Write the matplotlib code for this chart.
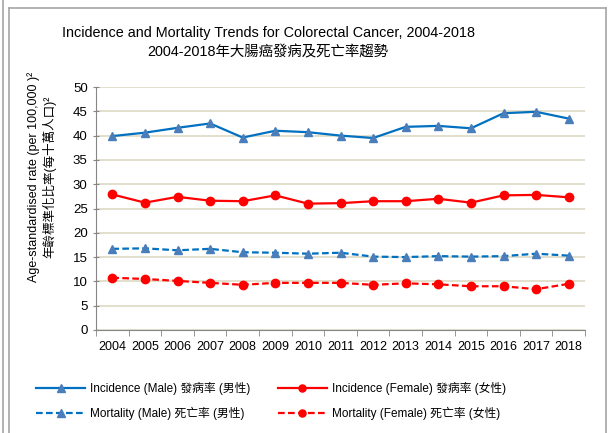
import matplotlib
matplotlib.use("Agg")
import matplotlib.pyplot as plt
from matplotlib.lines import Line2D
from matplotlib.ticker import FixedLocator, NullFormatter

plt.rcParams['font.family'] = ['Liberation Sans', 'Noto Sans CJK TC', 'DejaVu Sans']

years = [str(y) for y in range(2004, 2019)]
inc_male = [39.9, 40.6, 41.6, 42.5, 39.6, 41.0, 40.7, 40.0, 39.5, 41.8, 42.0, 41.5, 44.6, 44.9, 43.5]
inc_female = [27.9, 26.2, 27.4, 26.6, 26.5, 27.7, 26.0, 26.1, 26.5, 26.5, 27.0, 26.2, 27.7, 27.8, 27.3]
mort_male = [16.7, 16.8, 16.4, 16.7, 16.0, 15.9, 15.7, 15.9, 15.1, 15.0, 15.2, 15.1, 15.2, 15.7, 15.3]
mort_female = [10.75, 10.5, 10.1, 9.7, 9.3, 9.7, 9.7, 9.7, 9.3, 9.6, 9.4, 9.0, 9.0, 8.4, 9.5]

labels = ["Incidence (Male) 發病率 (男性)", "Incidence (Female) 發病率 (女性)",
          "Mortality (Male) 死亡率 (男性)", "Mortality (Female) 死亡率 (女性)"]

W, H = 609, 433
fig = plt.figure(figsize=(W/100, H/100), dpi=100)
ax = fig.add_axes([96/W, 1-330/H, (585-96)/W, (330-87)/H])

x = list(range(len(years)))
blue = '#0070C0'
mblue = '#4A7EBB'
red = '#FF0000'
dash = (0, (3.0, 1.5))

l1, = ax.plot(x, inc_male, color=blue, lw=1.6, marker='^', ms=6, mfc=mblue, mec=mblue)
l2, = ax.plot(x, inc_female, color=red, lw=1.6, marker='o', ms=6, mfc=red, mec=red)
l3, = ax.plot(x, mort_male, color=blue, lw=1.6, ls=dash, marker='^', ms=6, mfc=mblue, mec=mblue)
l4, = ax.plot(x, mort_female, color=red, lw=1.6, ls=dash, marker='o', ms=6, mfc=red, mec=red)

ax.set_xlim(-0.5, len(years)-0.5)
ax.set_ylim(0, 50)
ax.set_yticks(range(0, 51, 5))
ax.yaxis.grid(True, color='#DDD9C3', lw=1.2)
ax.set_axisbelow(True)
ax.set_xticks(x)
ax.set_xticklabels(years, fontsize=9)
ax.tick_params(axis='x', which='major', length=0, pad=8)
ax.xaxis.set_minor_locator(FixedLocator([i - 0.5 for i in range(len(years)+1)]))
ax.xaxis.set_minor_formatter(NullFormatter())
ax.tick_params(axis='x', which='minor', length=4, color='#868686', direction='out')
ax.tick_params(axis='y', length=4, color='#868686', direction='inout', labelsize=9.5, pad=4)
for s in ['top', 'right']:
    ax.spines[s].set_visible(False)
for s in ['left', 'bottom']:
    ax.spines[s].set_color('#868686')

fig.text(42/W, 1-177/H, "Age-standardised rate (per 100,000 )²\n年齡標準化比率(每十萬人口)²",
         rotation=90, ha='center', va='center', rotation_mode='anchor',
         multialignment='center', fontsize=9, linespacing=1.25)

fig.text(268/W, 1-33/H, "Incidence and Mortality Trends for Colorectal Cancer, 2004-2018",
         ha='center', va='center', fontsize=10.4)
fig.text(268/W, 1-52/H, "2004-2018年大腸癌發病及死亡率趨勢", ha='center', va='center', fontsize=10.4)

fig.legend([l1, l3, l2, l4], [labels[0], labels[2], labels[1], labels[3]], ncol=2,
           frameon=False, loc='center', markerscale=0.85,
           bbox_to_anchor=(271/W, 1-401/H), fontsize=8.5, handlelength=4.2,
           columnspacing=2.3, labelspacing=0.95, handletextpad=0.4)

# outer frame
fc = '#A6A6A6'
fig.add_artist(Line2D([3/W, 3/W], [0, 1], color=fc, lw=1.2))
fig.add_artist(Line2D([8.5/W, 8.5/W], [0, 1-8/H], color=fc, lw=1.2))
fig.add_artist(Line2D([8.5/W, 605.5/W], [1-8/H, 1-8/H], color=fc, lw=1.2))
fig.add_artist(Line2D([605.5/W, 605.5/W], [0, 1-8/H], color=fc, lw=1.2))

fig.savefig("out.png", dpi=100)
